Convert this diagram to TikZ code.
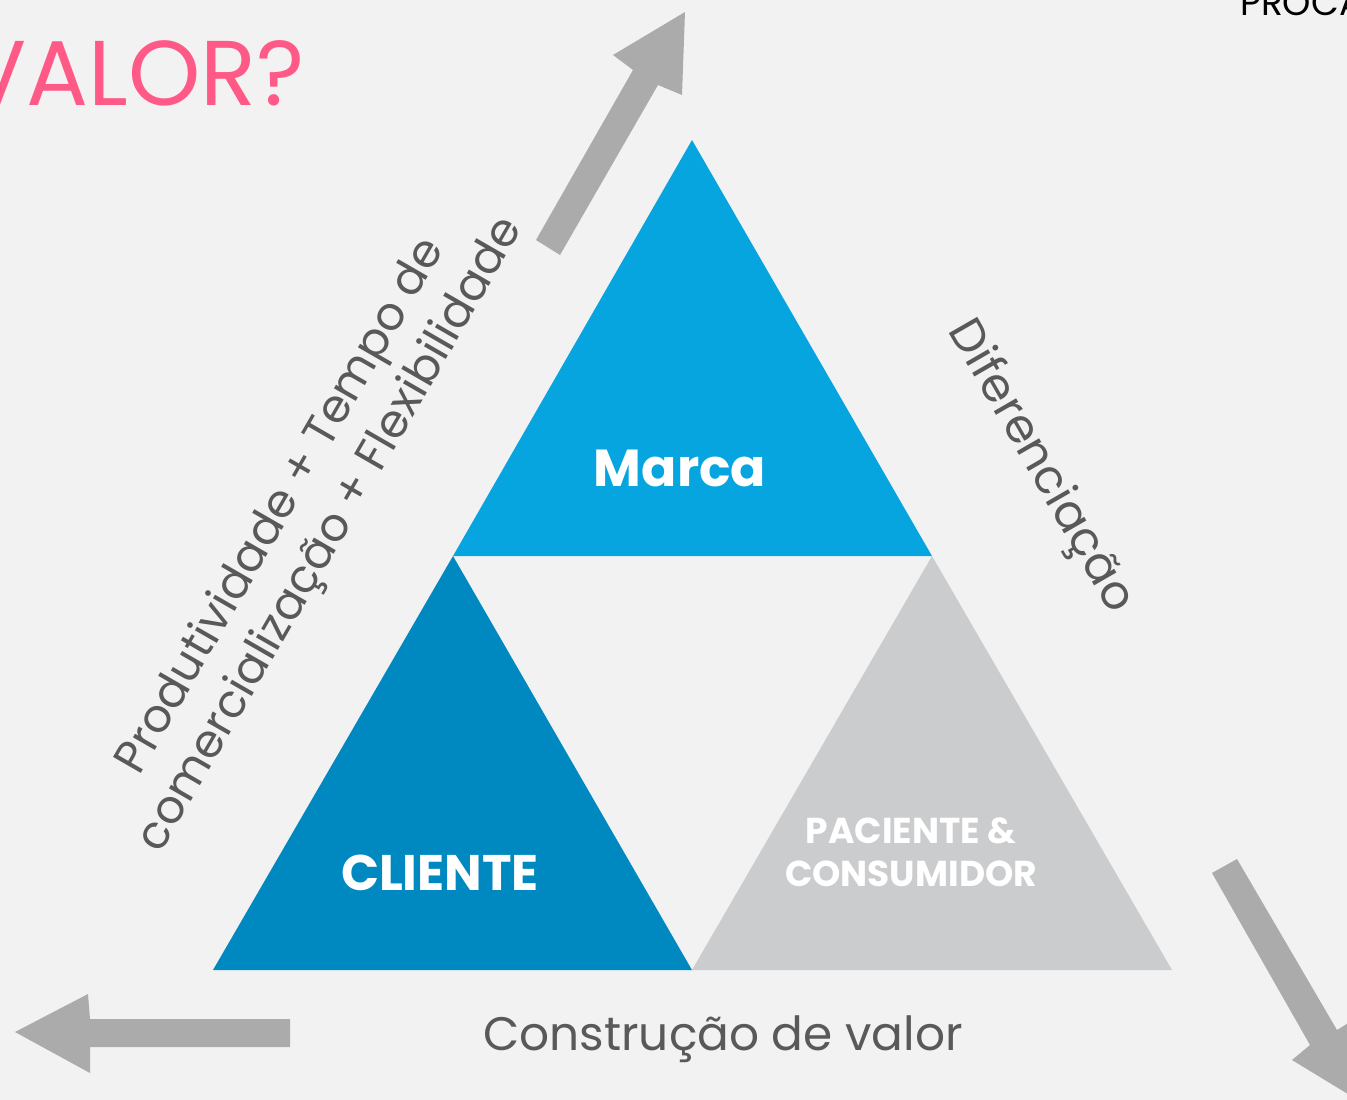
\documentclass[tikz,border=0pt]{standalone}
\usepackage{fontspec}
\setmainfont{Poppins}
\definecolor{bg}{RGB}{242,242,242}
\definecolor{marcac}{RGB}{7,165,224}
\definecolor{clientec}{RGB}{0,136,192}
\definecolor{pacientec}{RGB}{203,204,206}
\definecolor{arrowc}{RGB}{171,171,171}
\definecolor{textc}{RGB}{89,89,89}
\definecolor{pinkc}{RGB}{255,90,135}
\tikzset{
  tri/.style={draw=none},
  bigarrow/.style={fill=arrowc,draw=none},
  inlabel/.style={text=white,font=\bfseries\fontsize{#1}{#1}\selectfont,inner sep=0pt},
  sidelabel/.style={text=textc,font=\fontsize{#1}{57}\selectfont,inner sep=0pt,align=center},
}
\begin{document}
\begin{tikzpicture}[x=1pt,y=-1pt]
\useasboundingbox (0,0) rectangle (1347,1100);
\clip (0,0) rectangle (1347,1100);
\fill[bg] (0,0) rectangle (1347,1100);
% triangles
\fill[tri,marcac] (692,140) -- (932,556) -- (453,556) -- cycle;
\fill[tri,clientec] (453,556) -- (692,970) -- (213,970) -- cycle;
\fill[tri,pacientec] (932,556) -- (1172,970) -- (692,970) -- cycle;
% arrows
\fill[bigarrow] (536,240) -- (633,70) -- (613,55) -- (685,12) -- (682,95) -- (658,85) -- (560,255) -- cycle;
\fill[bigarrow] (1212,873) -- (1237,859) -- (1337,1030) -- (1358,1017) -- (1361,1102) -- (1292,1060) -- (1310,1045) -- cycle;
\fill[bigarrow] (290,1019) -- (90,1019) -- (88,994) -- (15,1032) -- (90,1073) -- (90,1047) -- (290,1047) -- cycle;
% labels
\node[inlabel=52] (marca) at (680,468) {Marca};
\node[inlabel=50] (cliente) at (440,873) {CLIENTE};
\node[inlabel=36,align=center,font=\bfseries\fontsize{36}{43}\selectfont] (paciente) at (911,852) {PACIENTE \&\\CONSUMIDOR};
\node[sidelabel=46,rotate=60] (prod) at (307,521) {Produtividade + Tempo de\\comercialização + Flexibilidade};
\node[sidelabel=47,rotate=-60] (dif) at (1040,467) {Diferenciação};
\node[sidelabel=47] (constr) at (723,1039) {Construção de valor};
\node[text=pinkc,font=\fontsize{92}{92}\selectfont,inner sep=0pt,anchor=base east] (valor) at (305,105) {VALOR?};
\node[text=black,font=\fontsize{36}{36}\selectfont,inner sep=0pt,anchor=base west] (proca) at (1240,15) {PROCA};
\end{tikzpicture}
\end{document}
